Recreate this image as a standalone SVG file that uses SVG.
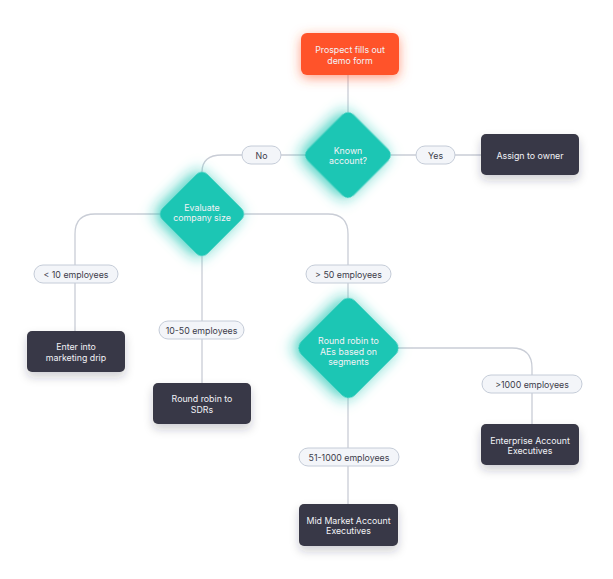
<svg xmlns="http://www.w3.org/2000/svg" width="613" height="579" viewBox="0 0 613 579">
<defs>
<filter id="glowTeal" x="-60%" y="-60%" width="220%" height="220%">
<feGaussianBlur in="SourceAlpha" stdDeviation="7.5"/>
<feOffset dx="-3" dy="3" result="b"/>
<feFlood flood-color="#1ec6b4" flood-opacity="0.9"/>
<feComposite in2="b" operator="in"/>
<feMerge><feMergeNode/><feMergeNode in="SourceGraphic"/></feMerge>
</filter>
<filter id="glowOrange" x="-50%" y="-80%" width="200%" height="260%">
<feGaussianBlur in="SourceAlpha" stdDeviation="6"/>
<feOffset dx="0" dy="3" result="b"/>
<feFlood flood-color="#ff5a2e" flood-opacity="0.6"/>
<feComposite in2="b" operator="in"/>
<feMerge><feMergeNode/><feMergeNode in="SourceGraphic"/></feMerge>
</filter>
<filter id="shadow" x="-40%" y="-60%" width="180%" height="240%">
<feGaussianBlur in="SourceAlpha" stdDeviation="5"/>
<feOffset dx="0" dy="5" result="b"/>
<feFlood flood-color="#2a2a3a" flood-opacity="0.22"/>
<feComposite in2="b" operator="in"/>
<feMerge><feMergeNode/><feMergeNode in="SourceGraphic"/></feMerge>
</filter>
</defs>
<style>
.conn{fill:none;stroke:#c9cdd6;stroke-width:1.3}
.orange{fill:#ff532a}
.teal{fill:#1ec6b4}
.dark{fill:#393846}
.pill{fill:#f3f5f9;stroke:#c5ccd8;stroke-width:1}
.t{font-family:Inter,"Open Sans","Noto Sans",sans-serif;font-size:8.8px;text-anchor:middle;dominant-baseline:central}
.tl{fill:#f2f2f6}
.tp{fill:#3c3c4a}
</style>
<rect width="613" height="579" fill="#ffffff"/>
<g id="connectors">
<path class="conn" d="M348 75 V112"/>
<path class="conn" d="M306 155 H222 Q202 155 202 172"/>
<path class="conn" d="M391 155 H481"/>
<path class="conn" d="M160 214 H95 Q75 214 75 234 V331"/>
<path class="conn" d="M202 256 V383"/>
<path class="conn" d="M244 214 H328 Q348 214 348 234 V298"/>
<path class="conn" d="M398 348 H512 Q532 348 532 368 V424"/>
<path class="conn" d="M348 398 V504"/>
</g>
<g id="prospect">
<rect class="orange" x="301" y="33" width="98" height="42" rx="6" filter="url(#glowOrange)"/>
<text class="t tl" x="350" y="49">Prospect fills out</text>
<text class="t tl" x="350" y="60">demo form</text>
</g>
<g id="known-account">
<rect class="teal" x="-32.5" y="-32.5" width="65" height="65" rx="8" transform="translate(348 155) rotate(45)" filter="url(#glowTeal)"/>
<text class="t tl" x="348" y="150">Known</text>
<text class="t tl" x="348" y="160.5">account?</text>
</g>
<g id="label-no">
<rect class="pill" x="242" y="146" width="39" height="18" rx="9"/>
<text class="t tp" x="261.5" y="155">No</text>
</g>
<g id="label-yes">
<rect class="pill" x="416" y="146" width="39" height="18" rx="9"/>
<text class="t tp" x="435.5" y="155">Yes</text>
</g>
<g id="assign-owner">
<rect class="dark" x="481" y="134" width="98" height="41" rx="5" filter="url(#shadow)"/>
<text class="t tl" x="530" y="155">Assign to owner</text>
</g>
<g id="evaluate-size">
<rect class="teal" x="-32" y="-32" width="64" height="64" rx="8" transform="translate(202 214) rotate(45)" filter="url(#glowTeal)"/>
<text class="t tl" x="202" y="207">Evaluate</text>
<text class="t tl" x="202" y="217.5">company size</text>
</g>
<g id="label-lt10">
<rect class="pill" x="34" y="265" width="84" height="18" rx="9"/>
<text class="t tp" x="76" y="274">&lt; 10 employees</text>
</g>
<g id="marketing-drip">
<rect class="dark" x="27" y="331" width="98" height="41" rx="5" filter="url(#shadow)"/>
<text class="t tl" x="76" y="346.5">Enter into</text>
<text class="t tl" x="76" y="357">marketing drip</text>
</g>
<g id="label-10-50">
<rect class="pill" x="159" y="321" width="85" height="18" rx="9"/>
<text class="t tp" x="201.5" y="330">10-50 employees</text>
</g>
<g id="round-robin-sdrs">
<rect class="dark" x="153" y="383" width="98" height="41" rx="5" filter="url(#shadow)"/>
<text class="t tl" x="202" y="398.5">Round robin to</text>
<text class="t tl" x="202" y="409">SDRs</text>
</g>
<g id="label-gt50">
<rect class="pill" x="306" y="265" width="85" height="18" rx="9"/>
<text class="t tp" x="348.5" y="274">&gt; 50 employees</text>
</g>
<g id="round-robin-aes">
<rect class="teal" x="-38" y="-38" width="76" height="76" rx="9" transform="translate(348.5 348) rotate(45)" filter="url(#glowTeal)"/>
<text class="t tl" x="348.5" y="340.5">Round robin to</text>
<text class="t tl" x="348.5" y="351">AEs based on</text>
<text class="t tl" x="348.5" y="361.5">segments</text>
</g>
<g id="label-gt1000">
<rect class="pill" x="482" y="375" width="100" height="18" rx="9"/>
<text class="t tp" x="532" y="384">&gt;1000 employees</text>
</g>
<g id="enterprise-ae">
<rect class="dark" x="481" y="424" width="98" height="41" rx="5" filter="url(#shadow)"/>
<text class="t tl" x="530" y="440">Enterprise Account</text>
<text class="t tl" x="530" y="450.5">Executives</text>
</g>
<g id="label-51-1000">
<rect class="pill" x="299" y="448" width="100" height="18" rx="9"/>
<text class="t tp" x="349" y="457">51-1000 employees</text>
</g>
<g id="mid-market-ae">
<rect class="dark" x="299" y="504" width="99" height="42" rx="5" filter="url(#shadow)"/>
<text class="t tl" x="348.5" y="520">Mid Market Account</text>
<text class="t tl" x="348.5" y="530.5">Executives</text>
</g>
</svg>
